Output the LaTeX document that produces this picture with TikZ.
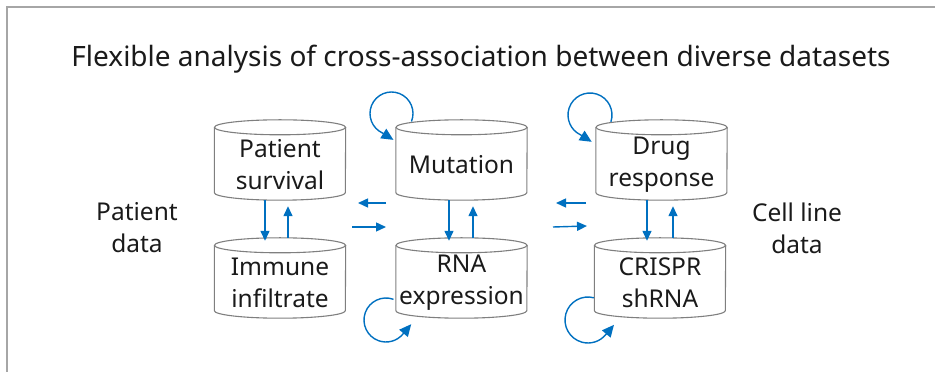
\documentclass[tikz,border=0pt]{standalone}
\usepackage{fontspec}
\setmainfont{Noto Sans}
\usetikzlibrary{arrows.meta,calc}
\definecolor{flowblue}{HTML}{0070C0}
\definecolor{drumgray}{HTML}{7F7F7F}
\definecolor{framegray}{HTML}{A6A6A6}
\definecolor{txt}{HTML}{1A1A1A}
\tikzset{
  % body of a data store: the text area below the lid
  drum/.style={rectangle, minimum width=131pt, minimum height=70pt,
    inner sep=0pt, align=center, text=txt, font=\fontsize{24.5}{32}\selectfont},
  drumline/.style={draw=drumgray, line width=1.1pt},
  side/.style={align=center, text=txt, font=\fontsize{24.5}{32}\selectfont},
  flow/.style={draw=flowblue, line width=1.4pt, -{Triangle[length=10pt,width=9pt]}},
  loopflow/.style={draw=flowblue, line width=1.4pt, -{Triangle[length=12pt,width=11pt]}},
}
% outline of a cylinder around a drum node (lid 10pt above the node)
\newcommand\drumoutline[1]{%
  \draw[drumline] ([yshift=2.5pt]#1.north west) -- ([yshift=7.5pt]#1.south west)
    arc[start angle=180, end angle=360, x radius=65.5pt, y radius=7.5pt]
    -- ([yshift=2.5pt]#1.north east);
  \draw[drumline] ([yshift=2.5pt]#1.north) ellipse[x radius=65.5pt, y radius=7.5pt];
}
\begin{document}
\begin{tikzpicture}[x=1pt,y=1pt]
\useasboundingbox (0,0) rectangle (935,372);
% frame edges
\draw[framegray, line width=2pt] (7,0) -- (7,365) -- (935,365);

% title
\node[text=txt, font=\fontsize{28}{32}\selectfont, anchor=base, inner sep=0pt] (title) at (481,305.3)
  {Flexible analysis of cross-association between diverse datasets};

% data stores
\node[drum] (ps) at (280,207) {Patient\\survival};
\node[drum] (ii) at (280,89) {Immune\\infiltrate};
\node[drum] (mu) at (461.5,207) {Mutation};
\node[drum] (rna) at (461.5,89) {RNA\\expression};
\node[drum] (dr) at (661.5,207) {Drug\\response};
\node[drum] (cr) at (660,89) {CRISPR\\shRNA};
\drumoutline{ps}
\drumoutline{ii}
\drumoutline{mu}
\drumoutline{rna}
\drumoutline{dr}
\drumoutline{cr}

% side labels
\node[side] (pd) at (137,144) {Patient\\data};
\node[side] (cl) at (797,144) {Cell line\\data};

% vertical exchanges
\draw[flow] ([xshift=-15pt]ps.south) -- ([xshift=-15pt,yshift=7pt]ii.north);
\draw[flow] ([xshift=8pt,yshift=10pt]ii.north) -- ([xshift=8pt,yshift=-6pt]ps.south);
\draw[flow] ([xshift=-12.5pt]mu.south) -- ([xshift=-12.5pt,yshift=7pt]rna.north);
\draw[flow] ([xshift=11.5pt,yshift=10pt]rna.north) -- ([xshift=11.5pt,yshift=-6pt]mu.south);
\draw[flow] ([xshift=-14.5pt]dr.south) -- ([xshift=-13pt,yshift=7pt]cr.north);
\draw[flow] ([xshift=13pt,yshift=10pt]cr.north) -- ([xshift=11.5pt,yshift=-6pt]dr.south);

% horizontal exchanges between columns
\coordinate (la1) at (386,169); \coordinate (lb1) at (358,169);
\coordinate (ra1) at (352,145); \coordinate (rb1) at (386,145);
\coordinate (la2) at (586,169); \coordinate (lb2) at (556,169);
\coordinate (ra2) at (553,145); \coordinate (rb2) at (587,146);
\draw[flow] (la1) -- (lb1);
\draw[flow] (ra1) -- (rb1);
\draw[flow] (la2) -- (lb2);
\draw[flow] (ra2) -- (rb2);

% self loops
\coordinate (mul) at (391.5,258.5);
\coordinate (drl) at (590,257);
\coordinate (rnal) at (386,52);
\coordinate (crl) at (588,52);
\draw[loopflow] ($(mul)+(-22:21.5)$) arc[start angle=-22, end angle=245, radius=21.5] -- ++(-32:13);
\draw[loopflow] ($(drl)+(-18:22)$) arc[start angle=-18, end angle=245, radius=22] -- ++(-32:13);
\draw[loopflow] ($(rnal)+(70:22)$) arc[start angle=70, end angle=320, radius=22] -- ++(50:13);
\draw[loopflow] ($(crl)+(75:23)$) arc[start angle=75, end angle=320, radius=23] -- ++(50:13);
\end{tikzpicture}
\end{document}
